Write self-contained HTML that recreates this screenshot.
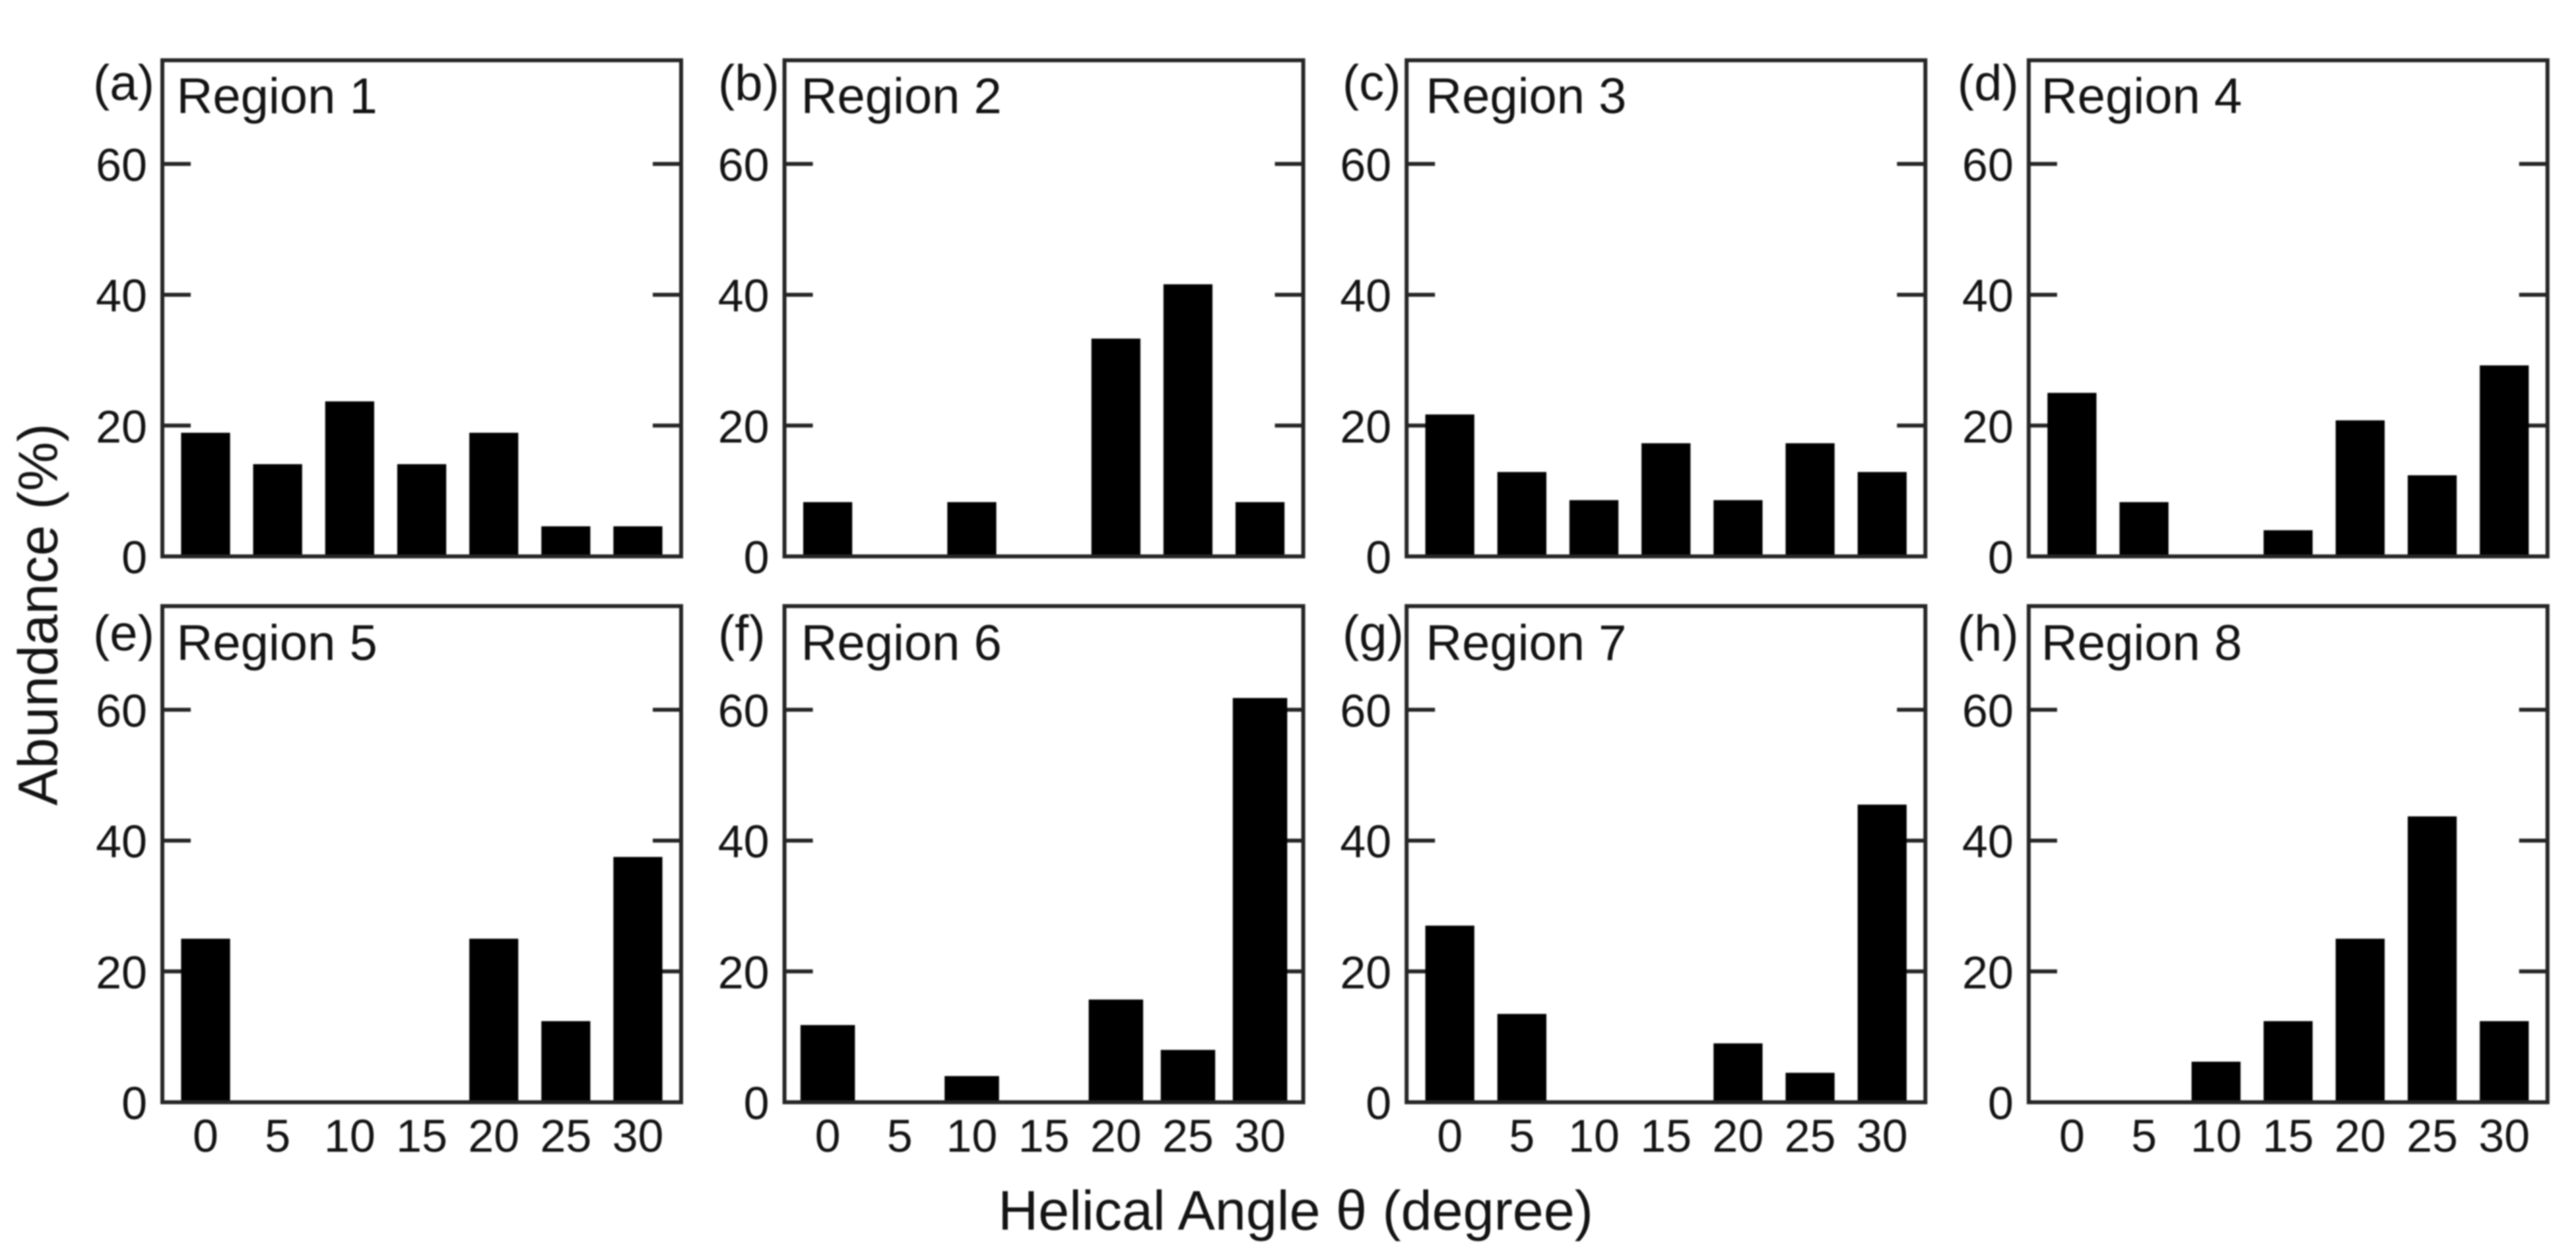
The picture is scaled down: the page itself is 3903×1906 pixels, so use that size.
<!DOCTYPE html>
<html lang="en">
<head>
<meta charset="utf-8">
<title>Abundance by helical angle, regions 1 to 8</title>
<style>
html,body{margin:0;padding:0;background:#fff;}
body{width:3903px;height:1906px;overflow:hidden;}
svg{display:block;filter:blur(1px);}
text{font-family:"Liberation Sans",sans-serif;fill:#141414;}
</style>
</head>
<body>
<svg id="figure" xmlns="http://www.w3.org/2000/svg" width="3903" height="1906" viewBox="0 0 3903 1906">
<rect x="0" y="0" width="3903" height="1906" fill="#fff"/>
<text transform="translate(86.5,931) rotate(-90)" text-anchor="middle" font-size="84">Abundance (%)</text>
<text x="1963" y="1863" text-anchor="middle" font-size="84.5">Helical Angle θ (degree)</text>
</svg>
<script>
const angleCategories = [0, 5, 10, 15, 20, 25, 30];
const abundanceTicks = [0, 20, 40, 60];
const panelLetters = ['(a)', '(b)', '(c)', '(d)', '(e)', '(f)', '(g)', '(h)'];
const regionNames = ['Region 1', 'Region 2', 'Region 3', 'Region 4', 'Region 5', 'Region 6', 'Region 7', 'Region 8'];
const region1Values = [18.9, 14.1, 23.7, 14.1, 18.9, 4.6, 4.6];
const region2Values = [8.3, 0, 8.3, 0, 33.3, 41.6, 8.3];
const region3Values = [21.7, 12.9, 8.6, 17.3, 8.6, 17.3, 12.9];
const region4Values = [25, 8.3, 0, 4, 20.8, 12.4, 29.2];
const region5Values = [25, 0, 0, 0, 25, 12.4, 37.5];
const region6Values = [11.8, 0, 4, 0, 15.7, 8, 61.8];
const region7Values = [27, 13.5, 0, 0, 9, 4.5, 45.5];
const region8Values = [0, 0, 6.2, 12.4, 25, 43.7, 12.4];
const regionSeries = [region1Values, region2Values, region3Values, region4Values, region5Values, region6Values, region7Values, region8Values];

const svg = document.getElementById('figure');
const NS = 'http://www.w3.org/2000/svg';
const xMin = -3, xMax = 33, yMax = 75.85, defaultBarSpan = 3.4, widerBarSpan = 3.78, widerBarPanel = 5;
const panelW = 786, panelH = 751.7;
const originX = 246, stepX = 942.6, originY = 91.3, stepY = 827;
const tickLen = 43, strokeW = 6, inkColor = '#262626';
const letterInsets = [105, 100.6, 97.2, 108];
const titleInsets = [21.5, 25, 29, 19];

function make(tag, attrs, text) {
  const node = document.createElementNS(NS, tag);
  for (const key in attrs) node.setAttribute(key, attrs[key]);
  if (text !== undefined) node.textContent = text;
  return node;
}

regionSeries.forEach(function (values, index) {
  const column = index % 4;
  const row = Math.floor(index / 4);
  const left = originX + column * stepX;
  const top = originY + row * stepY;
  const bottom = top + panelH;
  const right = left + panelW;
  const xScale = function (v) { return left + (v - xMin) / (xMax - xMin) * panelW; };
  const yScale = function (v) { return bottom - v / yMax * panelH; };
  const barSpan = index === widerBarPanel ? widerBarSpan : defaultBarSpan;
  const tag = 'region-' + (index + 1);

  const group = make('g', {});
  
  
  svg.appendChild(group);

  abundanceTicks.forEach(function (tick) {
    const y = yScale(tick);
    if (tick > 0) {
      const leftTick = make('line', {x1: left, x2: left + tickLen, y1: y, y2: y, stroke: inkColor, 'stroke-width': strokeW});
      
      
      group.appendChild(leftTick);
      const rightTick = make('line', {x1: right - tickLen, x2: right, y1: y, y2: y, stroke: inkColor, 'stroke-width': strokeW});
      
      
      group.appendChild(rightTick);
    }
    const yLabel = make('text', {x: left - 23, y: y + 25.5, 'text-anchor': 'end', 'font-size': 70}, String(tick));
    
    
    group.appendChild(yLabel);
  });

  values.forEach(function (value, i) {
    const center = xScale(angleCategories[i]);
    const halfWidth = (xScale(barSpan) - xScale(0)) / 2;
    const bar = make('rect', {x: center - halfWidth, y: yScale(value), width: halfWidth * 2, height: bottom - yScale(value), fill: '#000'});
    
    
    group.appendChild(bar);
  });

  const frame = make('rect', {x: left, y: top, width: panelW, height: panelH, fill: 'none', stroke: inkColor, 'stroke-width': strokeW});
  
  
  group.appendChild(frame);

  if (row === 1) {
    angleCategories.forEach(function (angle) {
      const xLabel = make('text', {x: xScale(angle), y: bottom + 75, 'text-anchor': 'middle', 'font-size': 70}, String(angle));
      
      
      group.appendChild(xLabel);
    });
  }

  const letter = make('text', {x: left - letterInsets[column], y: top + (row === 0 ? 60 : 67), 'font-size': 76}, panelLetters[index]);
  
  
  group.appendChild(letter);

  const title = make('text', {x: left + titleInsets[column], y: top + (row === 0 ? 80 : 81.5), 'font-size': 76}, regionNames[index]);
  
  
  group.appendChild(title);
});
</script>
</body>
</html>
